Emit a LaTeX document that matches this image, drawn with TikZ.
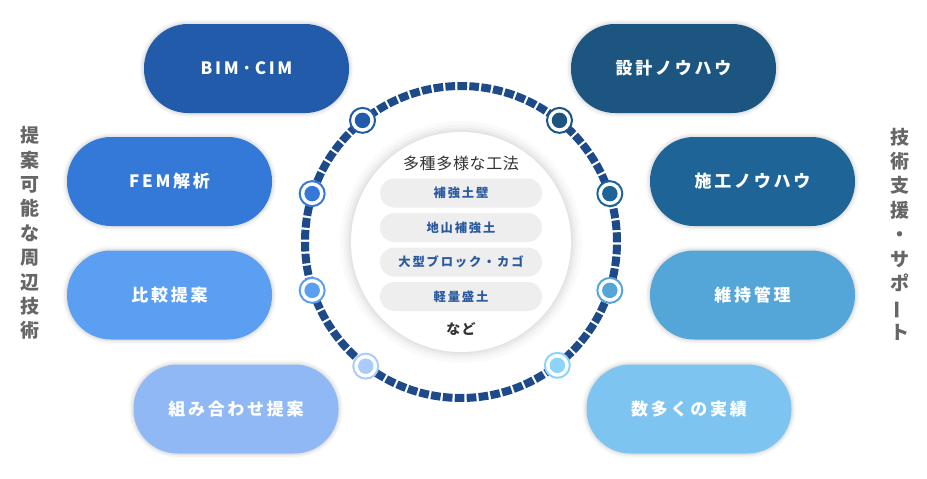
\documentclass[tikz,border=0pt]{standalone}
\usepackage{fontspec}
\setmainfont{Noto Sans CJK JP}
\usetikzlibrary{calc}
\definecolor{cBim}{HTML}{215BAA}
\definecolor{cFem}{HTML}{3478D8}
\definecolor{cHik}{HTML}{5B9FF2}
\definecolor{cKumi}{HTML}{90B8F4}
\definecolor{cSek}{HTML}{1B5580}
\definecolor{cSeko}{HTML}{1E6496}
\definecolor{cIji}{HTML}{55A6D8}
\definecolor{cJis}{HTML}{7EC4F1}
\definecolor{cKumiDot}{HTML}{A9CCFA}
\definecolor{cJisDot}{HTML}{8ED3FA}
\definecolor{ringc}{HTML}{1F4A8A}
\definecolor{sidegray}{HTML}{666666}
\definecolor{titlegray}{HTML}{333333}
\definecolor{tagfill}{HTML}{EEEEEE}
\definecolor{tagtext}{HTML}{2B5A9E}
\tikzset{
  softshadow/.style={
    preaction={draw=black, draw opacity=0.025, line width=9pt},
    preaction={draw=black, draw opacity=0.035, line width=6pt},
    preaction={draw=black, draw opacity=0.05, line width=3pt}},
  pill/.style={softshadow, rectangle, rounded corners=44pt, minimum width=205pt,
    minimum height=89pt, inner sep=0pt, text=white,
    font=\fontsize{17}{20}\selectfont\bfseries\addfontfeature{LetterSpace=16}},
  tag/.style={rectangle, rounded corners=14.5pt, fill=tagfill, minimum width=162pt,
    minimum height=29pt, inner sep=0pt, text=tagtext,
    font=\fontsize{12.3}{14}\selectfont\bfseries\addfontfeature{LetterSpace=15}},
  dotring/.style={circle, draw=#1, line width=2pt, fill=white, minimum size=25pt, inner sep=0pt},
  dotcore/.style={circle, fill=#1, minimum size=15.5pt, inner sep=0pt},
  sidetext/.style={align=center, text=sidegray,
    font=\fontsize{19}{24.4}\selectfont\bfseries}
}
\begin{document}
\begin{tikzpicture}[x=1pt,y=1pt]
\useasboundingbox (0,0) rectangle (927,-479);
% pills left
\node[pill, fill=cBim]  (bim)  at (246.5,-68.5) {BIM\,·\,CIM};
\node[pill, fill=cFem]  (fem)  at (169.5,-181.5) {FEM解析};
\node[pill, fill=cHik]  (hik)  at (169.5,-295) {比較提案};
\node[pill, fill=cKumi] (kumi) at (236,-409) {組み合わせ提案};
% pills right
\node[pill, fill=cSek]  (sek)  at (673.5,-68.5) {設計ノウハウ};
\node[pill, fill=cSeko] (seko) at (752.5,-181.5) {施工ノウハウ};
\node[pill, fill=cIji]  (iji)  at (752.5,-295) {維持管理};
\node[pill, fill=cJis]  (jis)  at (689,-409) {数多くの実績};
% side texts
\node[sidetext] (lside) at (30,-233) {提\\案\\可\\能\\な\\周\\辺\\技\\術};
\node[sidetext] (rside) at (900,-234) {技\\術\\支\\援\\・\\サ\\ポ\\\rotatebox[origin=c]{90}{ー}\\ト};
% ring
\coordinate (C) at (461,-242);
\draw[line width=8pt, ringc, dash pattern=on 9.7pt off 2.25pt] (C) circle (156);
% inner circle
\node[circle, fill=white, minimum size=220pt, inner sep=0pt,
  preaction={draw=black, draw opacity=0.02, line width=22pt},
  preaction={draw=black, draw opacity=0.025, line width=15pt},
  preaction={draw=black, draw opacity=0.03, line width=9pt},
  preaction={draw=black, draw opacity=0.035, line width=4pt}] (inner) at (C) {};
% dots
\foreach \ang/\col/\nm in {129/cBim/d1, 162/cFem/d2, 198/cHik/d3, 232.5/cKumiDot/d4,
                            51/cSek/d5, 18/cSeko/d6, -18/cIji/d7, -52/cJisDot/d8} {
  \path (C) ++(\ang:156.5) node[dotring=\col] (\nm) {};
  \node[dotcore=\col] (\nm c) at (\nm) {};
}
% center contents
\node[text=titlegray, font=\fontsize{16}{18}\selectfont\addfontfeature{LetterSpace=4}] (title) at (461,-163) {多種多様な工法};
\node[tag] (t1) at (461,-193) {補強土壁};
\node[tag] (t2) at (461,-227.5) {地山補強土};
\node[tag] (t3) at (461,-262) {大型ブロック・カゴ};
\node[tag] (t4) at (461,-296.5) {軽量盛土};
\node[text=titlegray, font=\fontsize{14}{16}\selectfont\bfseries\addfontfeature{LetterSpace=10}] (nado) at (461,-329) {など};
\end{tikzpicture}
\end{document}
